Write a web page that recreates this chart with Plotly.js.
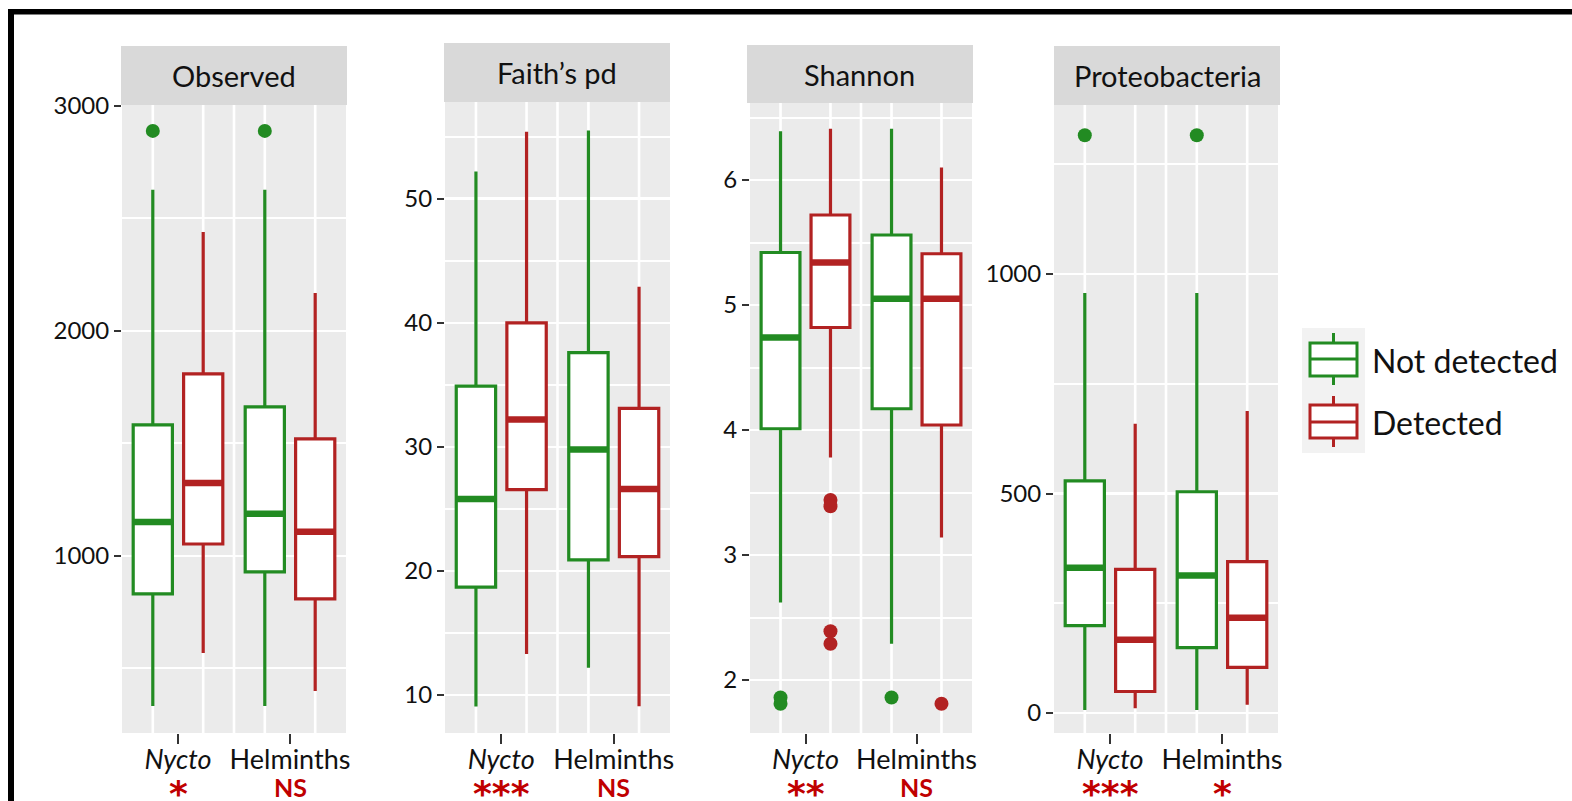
<!DOCTYPE html>
<html>
<head>
<meta charset="utf-8">
<script src="https://cdn.plot.ly/plotly-3.0.1.min.js"></script>
<style>html,body{margin:0;padding:0;background:#fff;}#chart{width:1572px;height:801px;}</style>
</head>
<body>
<div id="chart"></div>
<script>
// ---------------- DATA ----------------
const categories = ['Nycto', 'Helminths'];
const tickLabels = ['<i>Nycto</i>', 'Helminths'];
const groups = ['Not detected', 'Detected'];
const panelTitles = ['Observed', 'Faith\u2019s pd', 'Shannon', 'Proteobacteria'];

// box stats per category: [lower whisker, Q1, median, Q3, upper whisker]
const observedNotDetected = [[333, 831, 1151, 1582, 2627], [333, 929, 1187, 1662, 2627]];
const observedDetected    = [[569, 1053, 1324, 1809, 2440], [400, 809, 1107, 1520, 2169]];
const observedOutNotDetected = [[2889], [2889]];
const observedOutDetected    = [[], []];
const observedSig = ['*', 'NS'];

const faithNotDetected = [[9.07, 18.7, 25.8, 34.9, 52.2], [12.2, 20.9, 29.8, 37.6, 55.5]];
const faithDetected    = [[13.3, 26.55, 32.2, 40.0, 55.4], [9.1, 21.15, 26.6, 33.1, 42.9]];
const faithOutNotDetected = [[], []];
const faithOutDetected    = [[], []];
const faithSig = ['***', 'NS'];

const shannonNotDetected = [[2.62, 4.01, 4.74, 5.42, 6.39], [2.29, 4.17, 5.05, 5.56, 6.41]];
const shannonDetected    = [[3.78, 4.82, 5.34, 5.72, 6.41], [3.14, 4.04, 5.05, 5.41, 6.10]];
const shannonOutNotDetected = [[1.86, 1.81], [1.86]];
const shannonOutDetected    = [[3.44, 3.39, 2.39, 2.29], [1.81]];
const shannonSig = ['**', 'NS'];

const proteoNotDetected = [[7, 199, 331, 529, 957], [7, 149, 313, 504, 957]];
const proteoDetected    = [[11, 49, 167, 327, 659], [19, 104, 217, 345, 688]];
const proteoOutNotDetected = [[1316], [1316]];
const proteoOutDetected    = [[], []];
const proteoSig = ['***', '*'];

// ---------------- STYLE / LAYOUT ----------------
const W = 1572, H = 801;
const px = v => v / W;
const py = v => 1 - v / H;
const colors = ['#228B22', '#B22222'];
const sigColor = '#C00000';
const FONT = 'Lato, "Open Sans", sans-serif';
const offsets = [-0.225, 0.225];
const boxW = 0.35;

const panels = [
  {nd: observedNotDetected, d: observedDetected, ond: observedOutNotDetected, od: observedOutDetected, sig: observedSig,
   xd: [122, 346], yd: [105, 733], strip: [121, 347, 46, 105], range: [213, 3004], dtick: 1000, minor: 500},
  {nd: faithNotDetected, d: faithDetected, ond: faithOutNotDetected, od: faithOutDetected, sig: faithSig,
   xd: [445, 670], yd: [102, 733], strip: [444, 670, 43, 102], range: [6.94, 57.8], dtick: 10, minor: 5},
  {nd: shannonNotDetected, d: shannonDetected, ond: shannonOutNotDetected, od: shannonOutDetected, sig: shannonSig,
   xd: [750, 972], yd: [103, 733], strip: [747, 973, 45, 103], range: [1.576, 6.616], dtick: 1, minor: 0.5},
  {nd: proteoNotDetected, d: proteoDetected, ond: proteoOutNotDetected, od: proteoOutDetected, sig: proteoSig,
   xd: [1054, 1278], yd: [105, 733], strip: [1054, 1280, 46, 105], range: [-45.5, 1385], dtick: 500, minor: 250}
];

const traces = [];
const layout = {
  width: W, height: H,
  margin: {l: 0, r: 0, t: 0, b: 0, pad: 0},
  paper_bgcolor: '#ffffff',
  plot_bgcolor: '#EBEBEB',
  showlegend: false,
  font: {family: FONT, color: '#111'},
  shapes: [],
  annotations: []
};

panels.forEach((p, k) => {
  const s = k === 0 ? '' : String(k + 1);
  const xa = 'x' + s, ya = 'y' + s;
  [p.nd, p.d].forEach((stats, g) => {
    const xs = categories.map((c, i) => i + offsets[g]);
    traces.push({
      type: 'box', xaxis: xa, yaxis: ya, name: groups[g],
      x: xs,
      lowerfence: stats.map(r => r[0]),
      q1: stats.map(r => r[1]),
      median: stats.map(r => r[2]),
      q3: stats.map(r => r[3]),
      upperfence: stats.map(r => r[4]),
      width: boxW, whiskerwidth: 0, boxpoints: false,
      fillcolor: '#ffffff',
      line: {color: colors[g], width: 3.2},
      hoverinfo: 'skip', showlegend: false
    });
    // thicker median bar
    const mx = [], my = [];
    stats.forEach((r, i) => { mx.push(xs[i] - boxW / 2, xs[i] + boxW / 2, null); my.push(r[2], r[2], null); });
    traces.push({type: 'scatter', mode: 'lines', xaxis: xa, yaxis: ya, x: mx, y: my,
      line: {color: colors[g], width: 6.5}, hoverinfo: 'skip', showlegend: false});
    // outliers
    const outs = g === 0 ? p.ond : p.od;
    const ox = [], oy = [];
    outs.forEach((arr, i) => arr.forEach(v => { ox.push(xs[i]); oy.push(v); }));
    if (ox.length) traces.push({type: 'scatter', mode: 'markers', xaxis: xa, yaxis: ya, x: ox, y: oy,
      marker: {color: colors[g], size: 14, line: {width: 0}}, hoverinfo: 'skip', showlegend: false});
  });

  layout['xaxis' + s] = {
    domain: [px(p.xd[0]), px(p.xd[1])], anchor: ya, range: [-0.5, 1.5],
    tickmode: 'array', tickvals: categories.map((c, i) => i), ticktext: tickLabels,
    ticks: 'outside', ticklen: 10, tickwidth: 2, tickcolor: '#333', ticklabelstandoff: -7,
    showgrid: false, zeroline: false, showline: false, fixedrange: true,
    tickfont: {family: FONT, size: 27, color: '#111'}
  };
  layout['yaxis' + s] = {
    domain: [py(p.yd[1]), py(p.yd[0])], anchor: xa, range: p.range,
    tickmode: 'linear', tick0: 0, dtick: p.dtick,
    ticks: 'outside', ticklen: 7, tickwidth: 2, tickcolor: '#333',
    showgrid: true, gridcolor: '#ffffff', gridwidth: 2.6,
    minor: {tickmode: 'linear', tick0: 0, dtick: p.minor, showgrid: true, gridcolor: '#ffffff', gridwidth: 2, ticks: ''},
    zeroline: false, showline: false, fixedrange: true,
    tickfont: {family: FONT, size: 24, color: '#111'}
  };
  // vertical grid lines (at box positions and between categories)
  const vx = [];
  categories.forEach((c, i) => offsets.forEach(o => vx.push(i + o)));
  vx.push(0.5);
  vx.forEach(v => layout.shapes.push({type: 'line', xref: xa, yref: ya + ' domain', x0: v, x1: v, y0: 0, y1: 1,
    line: {color: '#ffffff', width: 2.6}, layer: 'below'}));
  // strip
  layout.shapes.push({type: 'rect', xref: 'paper', yref: 'paper',
    x0: px(p.strip[0]), x1: px(p.strip[1]), y0: py(p.strip[3]), y1: py(p.strip[2]),
    fillcolor: '#D9D9D9', line: {width: 0}, layer: 'above'});
  layout.annotations.push({xref: 'paper', yref: 'paper', x: px((p.strip[0] + p.strip[1]) / 2), y: py((p.strip[2] + p.strip[3]) / 2),
    text: panelTitles[k], showarrow: false, xanchor: 'center', yanchor: 'middle',
    font: {family: FONT, size: 29, color: '#111'}});
  // significance labels
  p.sig.forEach((t, i) => {
    if (t === 'NS') {
      layout.annotations.push({xref: xa, yref: 'paper', x: i, y: py(804),
        text: '<b>NS</b>', showarrow: false, xanchor: 'center', yanchor: 'bottom',
        font: {family: FONT, size: 25, color: sigColor}});
    } else {
      layout.annotations.push({xref: xa, yref: 'paper', x: i, y: py(771),
        text: '<b>' + t + '</b>', showarrow: false, xanchor: 'center', yanchor: 'top',
        height: 26, valign: 'top',
        font: {family: '"DejaVu Sans", sans-serif', size: 36, color: sigColor}});
    }
  });
});

// legend (drawn manually to match big key glyphs)
layout.shapes.push({type: 'rect', xref: 'paper', yref: 'paper', x0: px(1302), x1: px(1365), y0: py(453), y1: py(328),
  fillcolor: '#F2F2F2', line: {width: 0}});
const legendRows = [{top: 333, b0: 343, med: 359, b1: 376, bot: 385, text: 360},
                    {top: 396, b0: 405, med: 422, b1: 438, bot: 447, text: 423}];
groups.forEach((gname, g) => {
  const r = legendRows[g];
  const c = colors[g];
  layout.shapes.push({type: 'line', xref: 'paper', yref: 'paper', x0: px(1333.5), x1: px(1333.5), y0: py(r.top), y1: py(r.b0), line: {color: c, width: 3}});
  layout.shapes.push({type: 'line', xref: 'paper', yref: 'paper', x0: px(1333.5), x1: px(1333.5), y0: py(r.b1), y1: py(r.bot), line: {color: c, width: 3}});
  layout.shapes.push({type: 'rect', xref: 'paper', yref: 'paper', x0: px(1310), x1: px(1357), y0: py(r.b1), y1: py(r.b0), fillcolor: '#ffffff', line: {color: c, width: 3}});
  layout.shapes.push({type: 'line', xref: 'paper', yref: 'paper', x0: px(1310), x1: px(1357), y0: py(r.med), y1: py(r.med), line: {color: c, width: 3}});
  layout.annotations.push({xref: 'paper', yref: 'paper', x: px(1370), y: py(r.text), text: gname, showarrow: false,
    xanchor: 'left', yanchor: 'middle', font: {family: FONT, size: 32, color: '#111'}});
});

// outer frame
layout.shapes.push({type: 'rect', xref: 'paper', yref: 'paper', x0: px(8), x1: 1, y0: py(14.5), y1: py(9), fillcolor: '#000', line: {width: 0}});
layout.shapes.push({type: 'rect', xref: 'paper', yref: 'paper', x0: px(8), x1: px(14), y0: 0, y1: py(9), fillcolor: '#000', line: {width: 0}});

Plotly.newPlot('chart', traces, layout, {staticPlot: true, displayModeBar: false});
</script>
</body>
</html>
